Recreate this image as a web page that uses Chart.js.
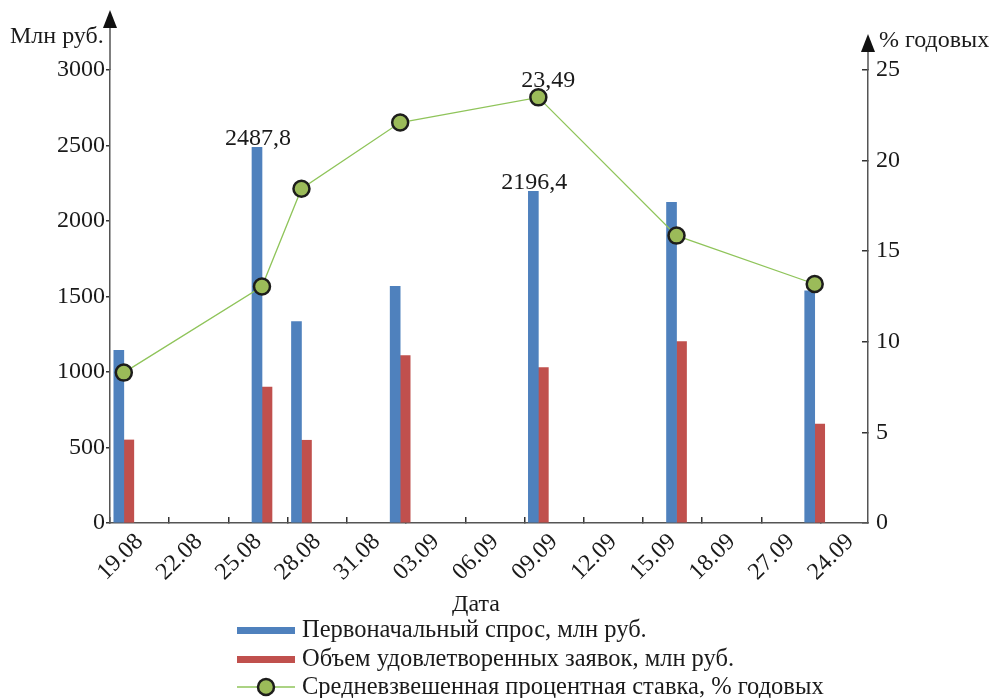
<!DOCTYPE html>
<html>
<head>
<meta charset="utf-8">
<script src="https://cdn.jsdelivr.net/npm/chart.js@4/dist/chart.umd.min.js"></script>
<style>
  html, body { margin: 0; padding: 0; background: #fff; }
  #wrap { width: 992px; height: 698px; position: relative; }
</style>
</head>
<body>
<div id="wrap"><canvas id="myChart"></canvas></div>
<script>
// даты аукционов
var dates = ['19.08', '26.08', '28.08', '02.09', '09.09', '16.09', '23.09'];
// первоначальный спрос, млн руб.
var demand = [1144, 2487.8, 1334, 1568, 2196.4, 2124, 1538];
// объем удовлетворенных заявок, млн руб.
var satisfied = [550, 900, 548, 1109, 1029, 1202, 655];
// средневзвешенная ставка, % годовых
var rate = [8.3, 13.05, 18.45, 22.1, 23.49, 15.86, 13.19];
// подписи оси X
var tickLabels = ['19.08', '22.08', '25.08', '28.08', '31.08', '03.09', '06.09',
                  '09.09', '12.09', '15.09', '18.09', '27.09', '24.09'];

var demandLabelled = [1, 4];
var rateLabelled = [4];

var FONT = '"Liberation Serif", "DejaVu Serif", serif';
var AXIS = '#555555';
var TEXT = '#1a1a1a';
var BLUE = '#4F81BD', RED = '#C0504D', GREEN = '#9BBB59', LINE = '#8FC45A';

function dayOf(s) {
  var p = s.split('.');
  return (Date.UTC(2019, +p[1] - 1, +p[0]) - Date.UTC(2019, 7, 19)) / 86400000;
}
function pts(vals) {
  return vals.map(function (v, i) { return { x: dayOf(dates[i]), y: v }; });
}
function fmt(v) { return String(v).replace('.', ','); }

var decor = {
  id: 'decor',
  afterDatasetsDraw: function (chart) {
    var ctx = chart.ctx;
    ctx.save();
    ctx.fillStyle = TEXT;
    ctx.font = '24px ' + FONT;
    ctx.textAlign = 'center';
    ctx.textBaseline = 'alphabetic';
    var m = chart.getDatasetMeta(1);
    demandLabelled.forEach(function (i) {
      var el = m.data[i];
      ctx.fillText(fmt(demand[i]), el.x + 1, el.y - 2);
    });
    var ml = chart.getDatasetMeta(0);
    rateLabelled.forEach(function (i) {
      var el = ml.data[i];
      ctx.fillText(fmt(rate[i]), el.x + 10, el.y - 10);
    });
    ctx.restore();
  },
  afterDraw: function (chart) {
    var ctx = chart.ctx, a = chart.chartArea;
    ctx.save();
    ctx.strokeStyle = AXIS;
    ctx.fillStyle = '#111';
    ctx.lineWidth = 1.5;
    // продление осей и стрелки
    ctx.beginPath();
    ctx.moveTo(a.left, a.top); ctx.lineTo(a.left, 24);
    ctx.moveTo(a.right, a.top); ctx.lineTo(a.right, 48);
    ctx.stroke();
    ctx.beginPath();
    ctx.moveTo(a.left, 10); ctx.lineTo(a.left - 7, 28); ctx.lineTo(a.left + 7, 28); ctx.closePath();
    ctx.fill();
    ctx.beginPath();
    ctx.moveTo(a.right, 34); ctx.lineTo(a.right - 7, 52); ctx.lineTo(a.right + 7, 52); ctx.closePath();
    ctx.fill();
    // названия осей
    ctx.fillStyle = TEXT;
    ctx.font = '24px ' + FONT;
    ctx.textBaseline = 'alphabetic';
    ctx.textAlign = 'left';
    ctx.fillText('Млн руб.', 10, 43);
    ctx.fillText('% годовых', 879, 47);
    ctx.textAlign = 'center';
    ctx.fillText('Дата', 476, 611);
    // легенда
    var rows = [630, 659, 687];
    var ds = chart.data.datasets;
    var order = [1, 2, 0];
    ctx.font = '24.5px ' + FONT;
    order.forEach(function (di, r) {
      var d = ds[di], y = rows[r];
      if (d.type === 'line') {
        ctx.strokeStyle = LINE; ctx.lineWidth = 1.3;
        ctx.beginPath(); ctx.moveTo(237, y); ctx.lineTo(295, y); ctx.stroke();
        ctx.beginPath(); ctx.arc(266, y, 8, 0, Math.PI * 2);
        ctx.fillStyle = GREEN; ctx.fill();
        ctx.strokeStyle = '#1d1d1b'; ctx.lineWidth = 2.5; ctx.stroke();
      } else {
        ctx.fillStyle = d.backgroundColor;
        ctx.fillRect(237, y - 3, 58, 7);
      }
      ctx.fillStyle = TEXT;
      ctx.textAlign = 'left';
      ctx.textBaseline = 'middle';
      ctx.fillText(d.label, 302, y + 1);
    });
    ctx.restore();
  }
};

var ctx = document.getElementById('myChart');
var myChart = new Chart(ctx, {
  type: 'bar',
  data: {
    datasets: [
      {
        type: 'line',
        label: 'Средневзвешенная процентная ставка, % годовых',
        data: pts(rate),
        yAxisID: 'y1',
        borderColor: LINE,
        borderWidth: 1.3,
        backgroundColor: GREEN,
        pointRadius: 8,
        pointBorderWidth: 2.5,
        pointBorderColor: '#1d1d1b',
        pointBackgroundColor: GREEN,
        order: 0
      },
      {
        label: 'Первоначальный спрос, млн руб.',
        data: pts(demand),
        yAxisID: 'y',
        backgroundColor: BLUE,
        barThickness: 10,
        order: 1
      },
      {
        label: 'Объем удовлетворенных заявок, млн руб.',
        data: pts(satisfied),
        yAxisID: 'y',
        backgroundColor: RED,
        barThickness: 10,
        order: 1
      }
    ]
  },
  options: {
    responsive: true,
    maintainAspectRatio: false,
    animation: false,
    layout: { padding: { top: 70, left: 0, right: 0, bottom: 0 } },
    plugins: {
      legend: { display: false },
      tooltip: { enabled: false }
    },
    scales: {
      x: {
        type: 'linear',
        offset: false,
        min: -0.7,
        max: 37.7,
        afterBuildTicks: function (scale) {
          scale.ticks = tickLabels.map(function (t, i) { return { value: 3 * i + 0.8 }; });
        },
        afterFit: function (scale) { scale.height = 175; },
        ticks: {
          autoSkip: false,
          minRotation: 45,
          maxRotation: 45,
          padding: 11,
          color: TEXT,
          font: { family: FONT, size: 24 },
          callback: function (v, i) { return tickLabels[i]; }
        },
        grid: {
          offset: true,
          drawOnChartArea: false,
          tickLength: -6,
          color: '#333',
          lineWidth: 1.5
        },
        border: { color: AXIS, width: 1.5 }
      },
      y: {
        position: 'left',
        min: 0,
        max: 3000,
        afterFit: function (scale) { scale.width = 110; },
        ticks: {
          stepSize: 500,
          padding: 1,
          color: TEXT,
          font: { family: FONT, size: 24 },
          callback: function (v) { return String(v); }
        },
        grid: { drawOnChartArea: false, tickLength: 4, color: '#333', lineWidth: 1.5 },
        border: { color: AXIS, width: 1.5 }
      },
      y1: {
        position: 'right',
        min: 0,
        max: 25,
        afterFit: function (scale) { scale.width = 124; },
        ticks: {
          stepSize: 5,
          padding: 14,
          color: TEXT,
          font: { family: FONT, size: 24 },
          callback: function (v) { return String(v); }
        },
        grid: { drawOnChartArea: false, tickLength: -6, color: '#333', lineWidth: 1.5 },
        border: { color: AXIS, width: 1.5 }
      }
    }
  },
  plugins: [decor]
});
</script>
</body>
</html>
